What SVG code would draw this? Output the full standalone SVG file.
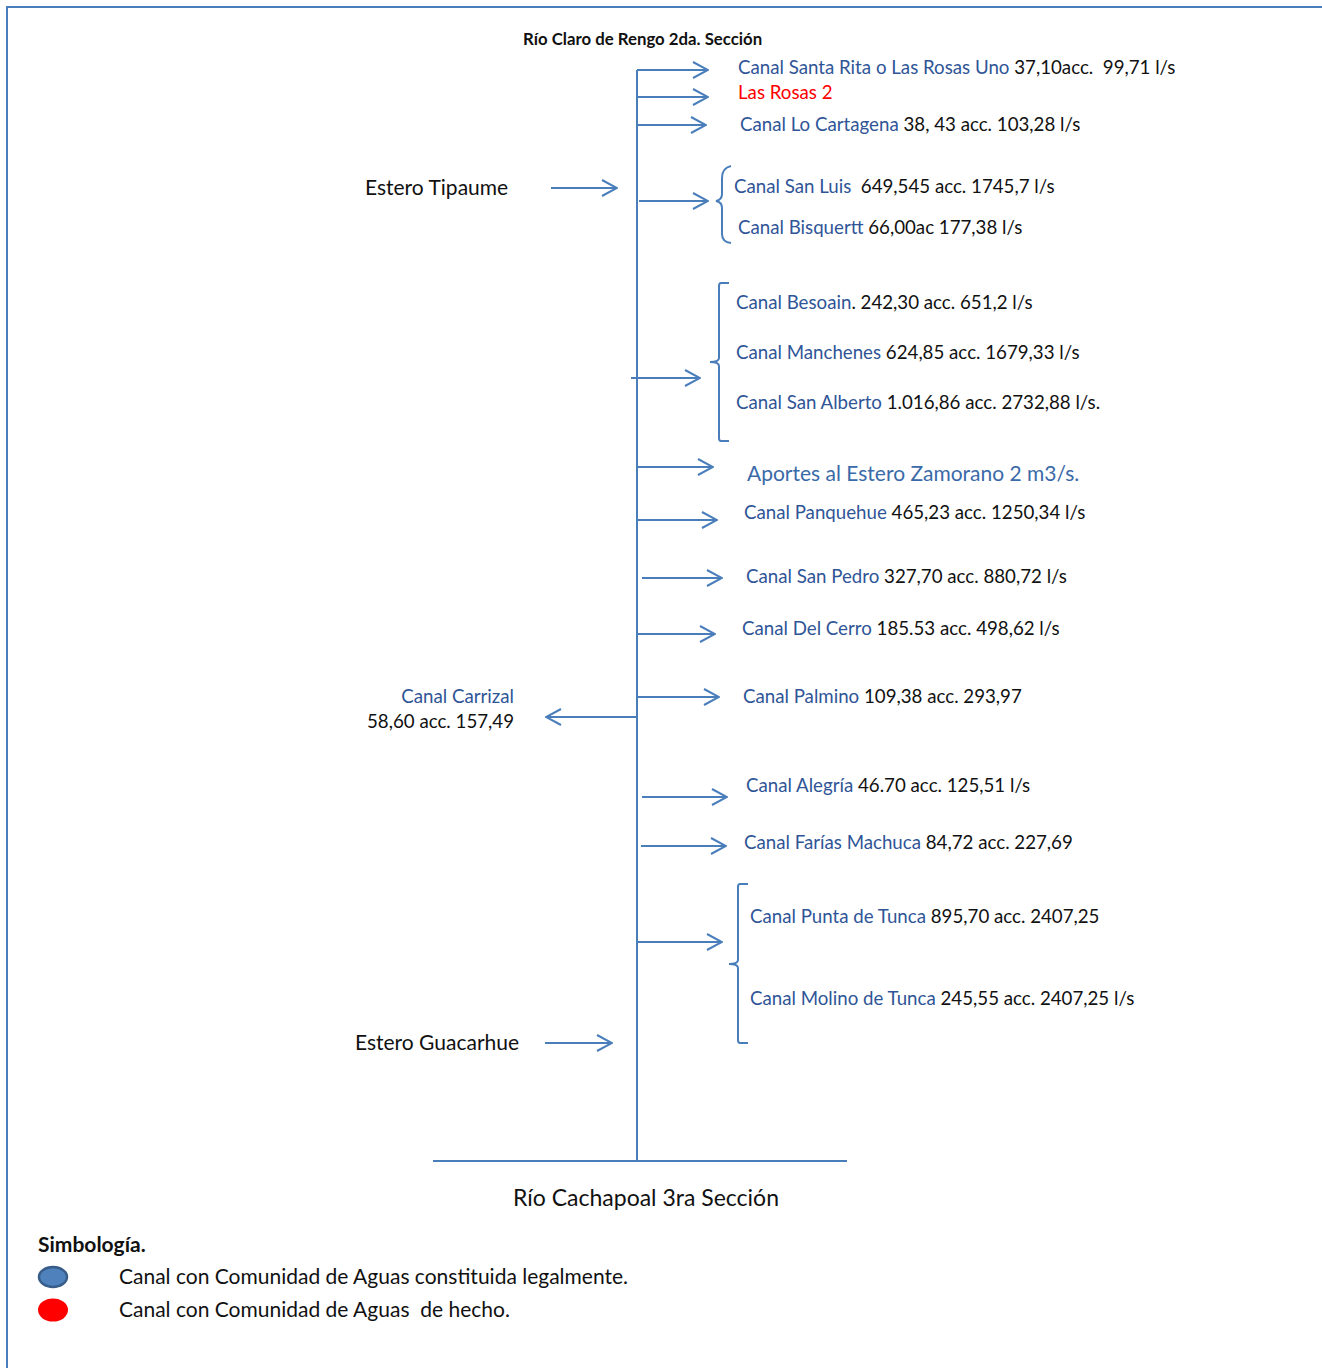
<svg xmlns="http://www.w3.org/2000/svg" width="1322" height="1368" viewBox="0 0 1322 1368">
<style>
text{font-family:Lato,"Open Sans","Liberation Sans",sans-serif;font-size:18.7px;fill:#111;white-space:pre}
.b{fill:#2f5597}
.r{fill:#ff0000}
.ln{stroke:#4a7ebb;stroke-width:2;fill:none}
.ar{stroke:#4a7ebb;stroke-width:2;fill:none;marker-end:url(#ah)}
.big{font-size:21px}
</style>
<defs>
<marker id="ah" markerUnits="userSpaceOnUse" viewBox="0 0 18 20" refX="17" refY="10" markerWidth="18" markerHeight="20" orient="auto">
<path d="M2,2 L17,10 L2,18" fill="none" stroke="#4a7ebb" stroke-width="2"/>
</marker>
</defs>
<rect width="1322" height="1368" fill="#fff"/>
<g id="frame" class="ln">
<path d="M7,1368 V7 H1322"/>
</g>
<g id="connectors">
<line class="ln" x1="637" y1="70" x2="637" y2="1161"/>
<line class="ln" x1="433" y1="1161" x2="847" y2="1161"/>
<line class="ar" x1="637" y1="70" x2="708" y2="70"/>
<line class="ar" x1="637" y1="97" x2="708" y2="97"/>
<line class="ar" x1="637" y1="125" x2="706" y2="125"/>
<line class="ar" x1="551" y1="188" x2="617" y2="188"/>
<line class="ar" x1="639" y1="201" x2="708" y2="201"/>
<line class="ar" x1="631" y1="378" x2="700" y2="378"/>
<line class="ar" x1="637" y1="467" x2="713" y2="467"/>
<line class="ar" x1="637" y1="520" x2="717" y2="520"/>
<line class="ar" x1="642" y1="578" x2="722" y2="578"/>
<line class="ar" x1="637" y1="634" x2="715" y2="634"/>
<line class="ar" x1="637" y1="697" x2="719" y2="697"/>
<line class="ar" x1="637" y1="717" x2="546" y2="717"/>
<line class="ar" x1="642" y1="797" x2="727" y2="797"/>
<line class="ar" x1="641" y1="846" x2="726" y2="846"/>
<line class="ar" x1="637" y1="942" x2="722" y2="942"/>
<line class="ar" x1="545" y1="1043" x2="612" y2="1043"/>
<path class="ln" d="M731,166 Q722,168 722,178 V194 Q722,200 716,201 Q722,202 722,208 V234 Q722,242 731,243"/>
<path class="ln" d="M729,283 H721 Q719,283 719,286 V358 Q719,362 710,362 Q719,362 719,366 V438 Q719,441 721,441 H729"/>
<path class="ln" d="M748,884 H740 Q738,884 738,887 V960 Q738,964 729,964 Q738,964 738,968 V1040 Q738,1043 740,1043 H748"/>
</g>
<g id="title"><text x="523" y="45" style="font-weight:bold;font-size:16.8px">Río Claro de Rengo 2da. Sección</text></g>
<g id="n1"><text x="738" y="74"><tspan class="b">Canal Santa Rita o Las Rosas Uno</tspan> 37,10acc.  99,71 l/s</text></g>
<g id="n2"><text x="738" y="99" class="r">Las Rosas 2</text></g>
<g id="n3"><text x="740" y="131"><tspan class="b">Canal Lo Cartagena</tspan> 38, 43 acc. 103,28 l/s</text></g>
<g id="tipaume"><text x="365" y="195" class="big">Estero Tipaume</text></g>
<g id="n4"><text x="734" y="193"><tspan class="b">Canal San Luis</tspan>  649,545 acc. 1745,7 l/s</text></g>
<g id="n5"><text x="738" y="234"><tspan class="b">Canal Bisquertt</tspan> 66,00ac 177,38 l/s</text></g>
<g id="n6"><text x="736" y="309"><tspan class="b">Canal Besoain</tspan>. 242,30 acc. 651,2 l/s</text></g>
<g id="n7"><text x="736" y="359"><tspan class="b">Canal Manchenes</tspan> 624,85 acc. 1679,33 l/s</text></g>
<g id="n8"><text x="736" y="409"><tspan class="b">Canal San Alberto</tspan> 1.016,86 acc. 2732,88 l/s.</text></g>
<g id="n9"><text x="747" y="481" class="big" style="fill:#3a6aa8">Aportes al Estero Zamorano 2 m3/s.</text></g>
<g id="n10"><text x="744" y="519"><tspan class="b">Canal Panquehue</tspan> 465,23 acc. 1250,34 l/s</text></g>
<g id="n11"><text x="746" y="583"><tspan class="b">Canal San Pedro</tspan> 327,70 acc. 880,72 l/s</text></g>
<g id="n12"><text x="742" y="635"><tspan class="b">Canal Del Cerro</tspan> 185.53 acc. 498,62 l/s</text></g>
<g id="carrizal"><text x="514" y="703" text-anchor="end" class="b">Canal Carrizal</text><text x="514" y="728" text-anchor="end">58,60 acc. 157,49</text></g>
<g id="n13"><text x="743" y="703"><tspan class="b">Canal Palmino</tspan> 109,38 acc. 293,97</text></g>
<g id="n14"><text x="746" y="792"><tspan class="b">Canal Alegría</tspan> 46.70 acc. 125,51 l/s</text></g>
<g id="n15"><text x="744" y="849"><tspan class="b">Canal Farías Machuca</tspan> 84,72 acc. 227,69</text></g>
<g id="n16"><text x="750" y="923"><tspan class="b">Canal Punta de Tunca</tspan> 895,70 acc. 2407,25</text></g>
<g id="n17"><text x="750" y="1005"><tspan class="b">Canal Molino de Tunca</tspan> 245,55 acc. 2407,25 l/s</text></g>
<g id="guacarhue"><text x="355" y="1050" class="big">Estero Guacarhue</text></g>
<g id="cachapoal"><text x="513" y="1206" style="font-size:23px">Río Cachapoal 3ra Sección</text></g>
<g id="legend">
<text x="38" y="1252" style="font-weight:bold;font-size:21px">Simbología.</text>
<ellipse cx="53" cy="1277" rx="14" ry="10" fill="#4f81bd" stroke="#385d8a" stroke-width="2.5"/>
<ellipse cx="53" cy="1310" rx="15" ry="11.5" fill="#ff0000"/>
<text x="119" y="1284" class="big">Canal con Comunidad de Aguas constituida legalmente.</text>
<text x="119" y="1317" class="big">Canal con Comunidad de Aguas  de hecho.</text>
</g>
</svg>
